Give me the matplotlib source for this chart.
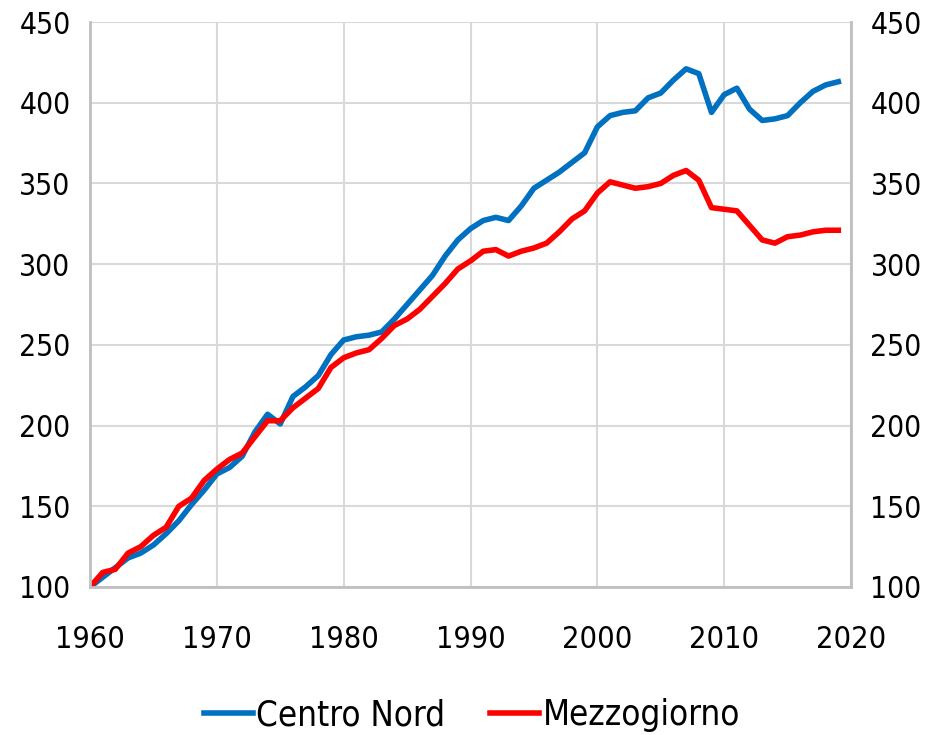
import numpy as np
import matplotlib.pyplot as plt

years = np.arange(1960, 2020)

centro_nord = [100, 106, 112, 118, 121, 126, 133, 141, 151, 160,
               170, 174, 181, 196, 207, 201, 218, 224, 231, 244,
               253, 255, 256, 258, 266, 275, 284, 293, 305, 315,
               322, 327, 329, 327, 336, 347, 352, 357, 363, 369,
               385, 392, 394, 395, 403, 406, 414, 421, 418, 394,
               405, 409, 396, 389, 390, 392, 400, 407, 411, 413]

mezzogiorno = [100, 109, 111, 121, 125, 132, 137, 150, 155, 166,
               173, 179, 183, 193, 203, 203, 211, 217, 223, 236,
               242, 245, 247, 254, 262, 266, 272, 280, 288, 297,
               302, 308, 309, 305, 308, 310, 313, 320, 328, 333,
               344, 351, 349, 347, 348, 350, 355, 358, 352, 335,
               334, 333, 324, 315, 313, 317, 318, 320, 321, 321]

plt.rcParams['font.family'] = ['DejaVu Sans']
plt.rcParams['font.stretch'] = 'condensed'

fig = plt.figure(figsize=(9.28, 7.35), dpi=100)
ax = fig.add_axes([90/928, 1-587/735, (851-90)/928, (587-22)/735])

ax.plot(years, centro_nord, color='#0070C0', lw=4, label='Centro Nord')
ax.plot(years, mezzogiorno, color='#FF0000', lw=4, label='Mezzogiorno')

ax.set_xlim(1960, 2020)
ax.set_ylim(100, 450)
ax.set_xticks(np.arange(1960, 2021, 10))
ax.set_yticks(np.arange(100, 451, 50))
ax.grid(color='#d9d9d9', lw=1.5)
ax.set_axisbelow(True)

ax.spines['top'].set_visible(False)
for s in ['left', 'right', 'bottom']:
    ax.spines[s].set_color('#bfbfbf')
    ax.spines[s].set_linewidth(2)

ax.tick_params(axis='x', length=0, pad=27, labelsize=22)
ax.tick_params(axis='y', length=0, pad=14, labelsize=21.5,
               labelright=True, right=False)

fig.legend(loc='center', bbox_to_anchor=(472/928, 1-715/735), ncol=2,
           frameon=False, fontsize=25, handlelength=1.4, handletextpad=0.1,
           columnspacing=1.3)

fig.savefig('out.png', dpi=100)
